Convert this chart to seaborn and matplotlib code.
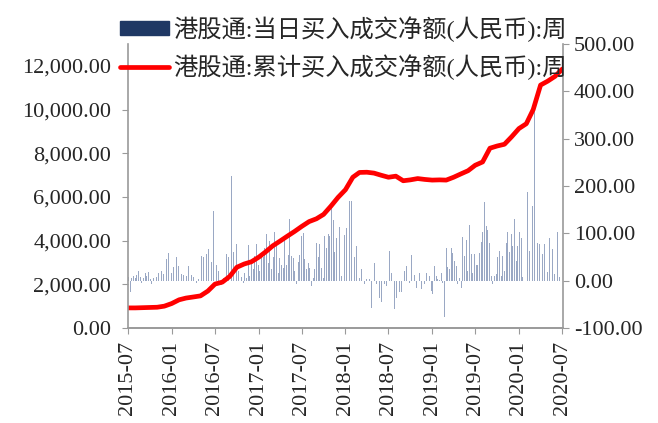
import pandas as pd
import numpy as np
import seaborn as sns
import matplotlib
matplotlib.use('Agg')
import matplotlib.pyplot as plt
from matplotlib.lines import Line2D
from matplotlib.patches import Patch
from matplotlib.ticker import FuncFormatter
import matplotlib.dates as mdates

# DATA
# weekly net buy (right axis), one value per week from 2015-07-03
weekly_start = '2015-07-03'
weekly_net = [
    8, -25, 5, 10, 6, 12, 20, 8, -4, 6, 17, 9, 19, 4, -8, 5, 3, 8, 17, 12,
    20, 15, 27, 45, 59, 22, 17, 28, 38, 50, 32, 32, 15, 12, 24, 10, 31, 17, 13, 8,
    31, -4, 3, 12, 52, 49, 30, 56, 66, 91, 40, 147, 99, 34, 20, 13, -10, 5, 10, 57,
    49, 152, 221, 60, 120, 77, 20, 38, 8, -4, 17, 5, 75, 10, 41, 25, 52, 77, 34, 20,
    56, 49, 70, 98, 38, 84, 24, 49, 103, 77, 17, 47, 33, 27, 85, 34, 54, 131, 52, 47,
    20, -8, 40, 54, 94, 101, 45, 24, 38, 27, -11, 6, 24, 80, 49, 77, 27, 6, 94, 68,
    98, 94, 154, 129, 61, 91, 87, 113, 10, 49, 96, 112, 154, 168, 168, 122, 49, 73, 70, 6,
    24, -15, -8, 3, 5, 3, -57, 4, 38, -8, -25, -36, -46, -4, -8, -11, -65, 63, 17, 33,
    -60, -36, -85, -25, -25, 27, 20, 31, 17, -4, 54, 45, 13, -15, -8, 17, -18, -39, -8, 17,
    24, 10, -22, -29, 31, 10, 4, 2, 17, -4, -77, 70, 29, 24, 70, 59, 41, 31, -8, 6,
    -16, 92, 52, 85, 20, 117, 56, 17, 56, 33, 34, 59, 82, 103, 167, 115, 108, 80, 10, -7,
    10, 15, 49, 63, 10, 53, 21, 79, 103, 60, 98, 74, 131, 42, 74, 102, 91, 7, 0, 137,
    188, 63, 158, 157, 380, 200, 79, 77, 14, 56, 77, 10, 19, 91, 74, 67, 14, 42, 103, 7,
    20,
]

# cumulative net buy (left axis), read at the start of each month from 2015-07
month_start = '2015-07-01'
cum_net = [
    920, 920, 930, 940, 950, 1000, 1120, 1290, 1370, 1420, 1470, 1690,
    2010, 2100, 2360, 2780, 2930, 3030, 3240, 3500, 3760, 3980, 4200, 4420,
    4650, 4870, 5000, 5200, 5580, 5980, 6330, 6900, 7120, 7130, 7090, 6990,
    6900, 6950, 6740, 6780, 6840, 6800, 6770, 6780, 6770, 6900, 7050, 7200,
    7450, 7600, 8230, 8330, 8410, 8750, 9130, 9350, 10000, 11120, 11300, 11520,
    11850,
]

bar_label = '港股通:当日买入成交净额(人民币):周'
line_label = '港股通:累计买入成交净额(人民币):周'

week_dates = pd.date_range(weekly_start, periods=len(weekly_net), freq='7D')
month_dates = pd.date_range(month_start, periods=len(cum_net), freq='MS')
df_cum = pd.DataFrame({'date': month_dates, 'cum': cum_net})

# STYLE
sns.set_style('white')
plt.rcParams['font.family'] = ['Liberation Serif', 'Noto Sans CJK SC']
plt.rcParams['font.size'] = 16

fig = plt.figure(figsize=(6.58, 4.23), dpi=100)
ax = fig.add_axes([0.1945, 0.2246, 0.661, 0.6714])
ax2 = ax.twinx()

ax2.bar(week_dates, weekly_net, width=3.5, color='#9aa8c4', linewidth=0)
sns.lineplot(data=df_cum, x='date', y='cum', ax=ax, color='#ff0000', linewidth=3.4)

ax.set_zorder(ax2.get_zorder() + 1)
ax.patch.set_visible(False)

ax.set_ylim(0, 13000)
ax.set_yticks(np.arange(0, 12001, 2000))
ax2.set_ylim(-100, 500)
ax2.set_yticks(np.arange(-100, 501, 100))
fmt = FuncFormatter(lambda v, p: f'{v:,.2f}')
ax.yaxis.set_major_formatter(fmt)
ax2.yaxis.set_major_formatter(fmt)

ax.set_xlim(pd.Timestamp('2015-07-01'), pd.Timestamp('2020-07-04'))
ax.set_xticks(pd.date_range('2015-07-01', '2020-07-01', freq='6MS'))
ax.xaxis.set_major_formatter(mdates.DateFormatter('%Y-%m'))
plt.setp(ax.get_xticklabels(), rotation=90)

ax.set_xlabel('')
ax.set_ylabel('')
ax2.set_ylabel('')

for a in (ax, ax2):
    a.spines['top'].set_visible(False)
    for s in ('left', 'right', 'bottom'):
        a.spines[s].set_color('#9a9a9a')
        a.spines[s].set_linewidth(1.2)
ax.spines['right'].set_visible(False)
ax2.spines['left'].set_visible(False)

ax.tick_params(axis='y', direction='out', length=4, color='#9a9a9a', pad=8, left=True)
ax.tick_params(axis='x', direction='out', length=4, color='#9a9a9a', pad=5, bottom=True)
ax2.tick_params(axis='y', direction='out', length=4, color='#9a9a9a', pad=4, right=True)

handles = [Patch(color='#1f3864'), Line2D([], [], color='#ff0000', lw=3.4)]
fig.legend(handles, [bar_label, line_label], loc='upper left',
           bbox_to_anchor=(108 / 658, 1 - 4 / 423), frameon=False,
           borderpad=0, handlelength=2.0, handleheight=0.5,
           handletextpad=0.2, labelspacing=0.5, fontsize=17.5)

fig.savefig('out.png', dpi=100)
